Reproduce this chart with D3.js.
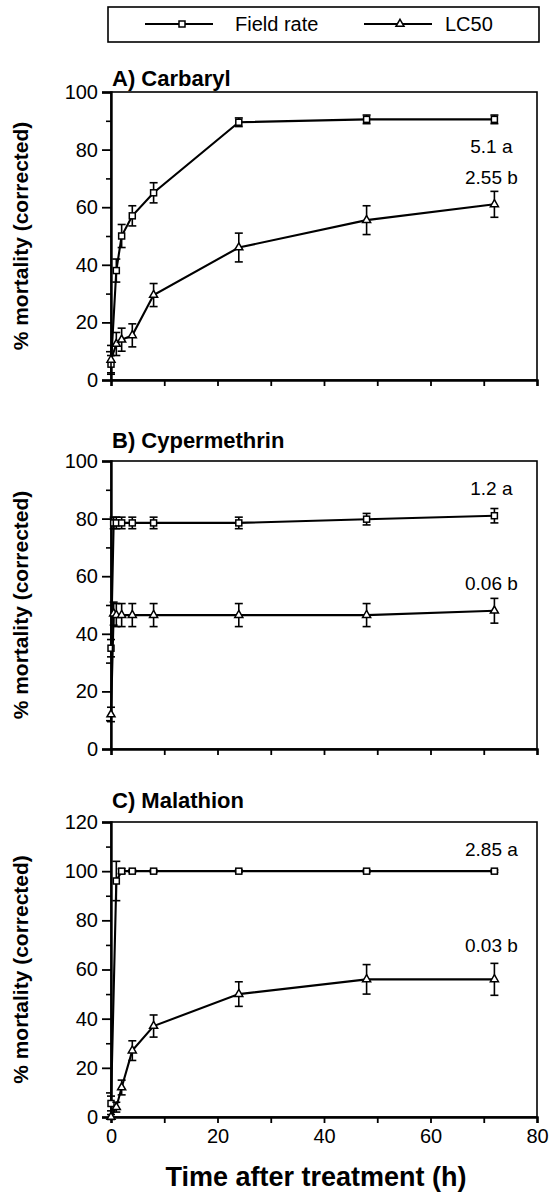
<!DOCTYPE html>
<html>
<head>
<meta charset="utf-8">
<script src="https://cdn.jsdelivr.net/npm/d3@7"></script>
<style>
  body { margin: 0; background: #fff; }
  text { font-family: "Liberation Sans", Arial, sans-serif; fill: #000; }
</style>
</head>
<body>
<div id="chart"></div>
<script>
// data (hours after treatment, % mortality corrected)
const timesA = [0, 1, 2, 4, 8, 24, 48, 72];
const fieldA = [5.5, 38, 50, 57, 65, 89.5, 90.5, 90.5];
const fieldAErr = [3, 4, 4, 3.5, 3.5, 1.5, 1.5, 1.5];
const lc50A = [7, 12.5, 14, 15.5, 29.5, 46, 55.5, 61];
const lc50AErr = [5, 4, 4, 4, 4, 5, 5, 4.5];

const timesB = [0, 0.5, 1, 2, 4, 8, 24, 48, 72];
const fieldB = [35, 78.5, 78.5, 78.5, 78.5, 78.5, 78.5, 79.8, 81];
const fieldBErr = [3, 2, 2, 2, 2, 2, 2, 2, 2.5];
const lc50B = [12, 47, 46.5, 46.5, 46.5, 46.5, 46.5, 46.5, 48];
const lc50BErr = [2.5, 4, 4, 4, 4, 4, 4, 4, 4.3];

const timesC = [0, 1, 2, 4, 8, 24, 48, 72];
const fieldC = [5.5, 96, 100, 100, 100, 100, 100, 100];
const fieldCErr = [3, 8, 1, 0.5, 0.5, 0.5, 0.5, 0.5];
const lc50C = [0, 4, 12, 27, 37, 50, 56, 56];
const lc50CErr = [1, 2, 3, 4, 4.5, 5, 6, 6.5];

const titles = ["A) Carbaryl", "B) Cypermethrin", "C) Malathion"];
const fieldLabels = ["5.1 a", "1.2 a", "2.85 a"];
const lc50Labels = ["2.55 b", "0.06 b", "0.03 b"];
const seriesNames = ["Field rate", "LC50"];
const xTicks = [0, 20, 40, 60, 80];

const width = 549;
const height = 1192;

const svg = d3.select("#chart")
    .append("svg")
    .attr("width", width)
    .attr("height", height);

const x = d3.scaleLinear().domain([0, 80]).range([111, 537]);

// layout of the three stacked panels
const panels = [
    { top: 92, bottom: 380, yMax: 100, times: timesA, field: fieldA, fieldErr: fieldAErr, lc: lc50A, lcErr: lc50AErr, dyField: 27, dyLc: -27, titleY: 86 },
    { top: 461, bottom: 749, yMax: 100, times: timesB, field: fieldB, fieldErr: fieldBErr, lc: lc50B, lcErr: lc50BErr, dyField: -27, dyLc: -27, titleY: 448 },
    { top: 822, bottom: 1117, yMax: 120, times: timesC, field: fieldC, fieldErr: fieldCErr, lc: lc50C, lcErr: lc50CErr, dyField: -22, dyLc: -34, titleY: 808 },
];

function drawMarker(g, kind, cx, cy) {
    if (kind === "square") {
        g.append("rect")
            .attr("x", cx - 3).attr("y", cy - 3)
            .attr("width", 6).attr("height", 6)
            .attr("fill", "#fff").attr("stroke", "#000").attr("stroke-width", 1.5);
    } else {
        g.append("path")
            .attr("d", d3.symbol(d3.symbolTriangle, 28)())
            .attr("transform", "translate(" + cx + "," + cy + ")")
            .attr("fill", "#fff").attr("stroke", "#000").attr("stroke-width", 1.5);
    }
}

panels.forEach(function (p, i) {
    const g = svg.append("g");
    const y = d3.scaleLinear().domain([0, p.yMax]).range([p.bottom, p.top]);

    // frame
    g.append("rect")
        .attr("x", x(0)).attr("y", p.top)
        .attr("width", x(80) - x(0)).attr("height", p.bottom - p.top)
        .attr("fill", "none").attr("stroke", "#000").attr("stroke-width", 1.6);

    // y axis, major + minor ticks
    const major = d3.range(0, p.yMax + 1, 20);
    const minor = d3.range(10, p.yMax, 20);
    const yAx = g.append("g")
        .attr("transform", "translate(" + x(0) + ",0)")
        .call(d3.axisLeft(y).tickValues(major).tickSize(9).tickPadding(4).tickFormat(d3.format("d")));
    yAx.select(".domain").attr("stroke-width", 2.4);
    yAx.selectAll("line").attr("stroke-width", 1.8);
    yAx.selectAll("text").style("font-size", "20px").style("font-family", "Liberation Sans, Arial, sans-serif");
    g.append("g")
        .attr("transform", "translate(" + x(0) + ",0)")
        .call(d3.axisLeft(y).tickValues(minor).tickSize(5).tickFormat(""))
        .call(s => s.select(".domain").remove())
        .selectAll("line").attr("stroke-width", 1.6);

    // x axis
    const xAx = g.append("g")
        .attr("transform", "translate(0," + p.bottom + ")")
        .call(d3.axisBottom(x).ticks(8).tickSize(6).tickPadding(6)
            .tickFormat(d => (i === 2 && xTicks.includes(d)) ? d : ""));
    xAx.select(".domain").attr("stroke-width", 2.4);
    xAx.selectAll("line").attr("stroke-width", 1.8);
    xAx.selectAll("text").style("font-size", "20px").style("font-family", "Liberation Sans, Arial, sans-serif");

    // panel title
    g.append("text")
        .attr("x", x(0) + 1).attr("y", p.titleY)
        .style("font-size", "22px").style("font-weight", "bold")
        .text(titles[i]);

    // y label
    g.append("text")
        .attr("transform", "translate(28," + ((p.top + p.bottom) / 2) + ")rotate(-90)")
        .attr("text-anchor", "middle")
        .style("font-size", "21px").style("font-weight", "bold")
        .text("% mortality (corrected)");

    const line = d3.line().x(d => x(d.t)).y(d => y(d.v));
    const series = [
        { vals: p.field, errs: p.fieldErr, kind: "square", label: fieldLabels[i], dy: p.dyField },
        { vals: p.lc, errs: p.lcErr, kind: "triangle", label: lc50Labels[i], dy: p.dyLc },
    ];

    series.forEach(function (s) {
        const pts = p.times.map((t, k) => ({ t: t, v: s.vals[k], e: s.errs[k] }));
        g.append("path")
            .datum(pts)
            .attr("d", line)
            .attr("fill", "none").attr("stroke", "#000").attr("stroke-width", 2.1);
        // error bars
        pts.forEach(function (d) {
            const cx = x(d.t);
            const y1 = y(d.v - d.e), y2 = y(d.v + d.e);
            g.append("line").attr("x1", cx).attr("x2", cx).attr("y1", y1).attr("y2", y2)
                .attr("stroke", "#000").attr("stroke-width", 1.6);
            [y1, y2].forEach(function (yy) {
                g.append("line").attr("x1", cx - 4).attr("x2", cx + 4).attr("y1", yy).attr("y2", yy)
                    .attr("stroke", "#000").attr("stroke-width", 1.6);
            });
        });
        pts.forEach(d => drawMarker(g, s.kind, x(d.t), y(d.v)));

        const last = pts[pts.length - 1];
        g.append("text")
            .attr("x", x(last.t) - 3)
            .attr("y", y(last.v) + s.dy)
            .attr("dy", "0.35em")
            .attr("text-anchor", "middle")
            .style("font-size", "19px")
            .text(s.label);
    });
});

// x axis title
svg.append("text")
    .attr("x", (x(0) + x(80)) / 2 - 8)
    .attr("y", 1186)
    .attr("text-anchor", "middle")
    .style("font-size", "27px").style("font-weight", "bold")
    .text("Time after treatment (h)");

// legend
const legend = svg.append("g");
legend.append("rect")
    .attr("x", 108).attr("y", 7).attr("width", 431).attr("height", 35)
    .attr("fill", "none").attr("stroke", "#000").attr("stroke-width", 1.6);
const legendItems = [
    { kind: "square", x1: 145, x2: 213, mx: 182, tx: 235 },
    { kind: "triangle", x1: 364, x2: 432, mx: 400, tx: 445 },
];
legendItems.forEach(function (d, k) {
    legend.append("line").attr("x1", d.x1).attr("x2", d.x2).attr("y1", 24).attr("y2", 24)
        .attr("stroke", "#000").attr("stroke-width", 1.8);
    drawMarker(legend, d.kind, d.mx, 24);
    legend.append("text")
        .attr("x", d.tx).attr("y", 24).attr("dy", "0.35em")
        .style("font-size", "20px")
        .text(seriesNames[k]);
});
</script>
</body>
</html>
